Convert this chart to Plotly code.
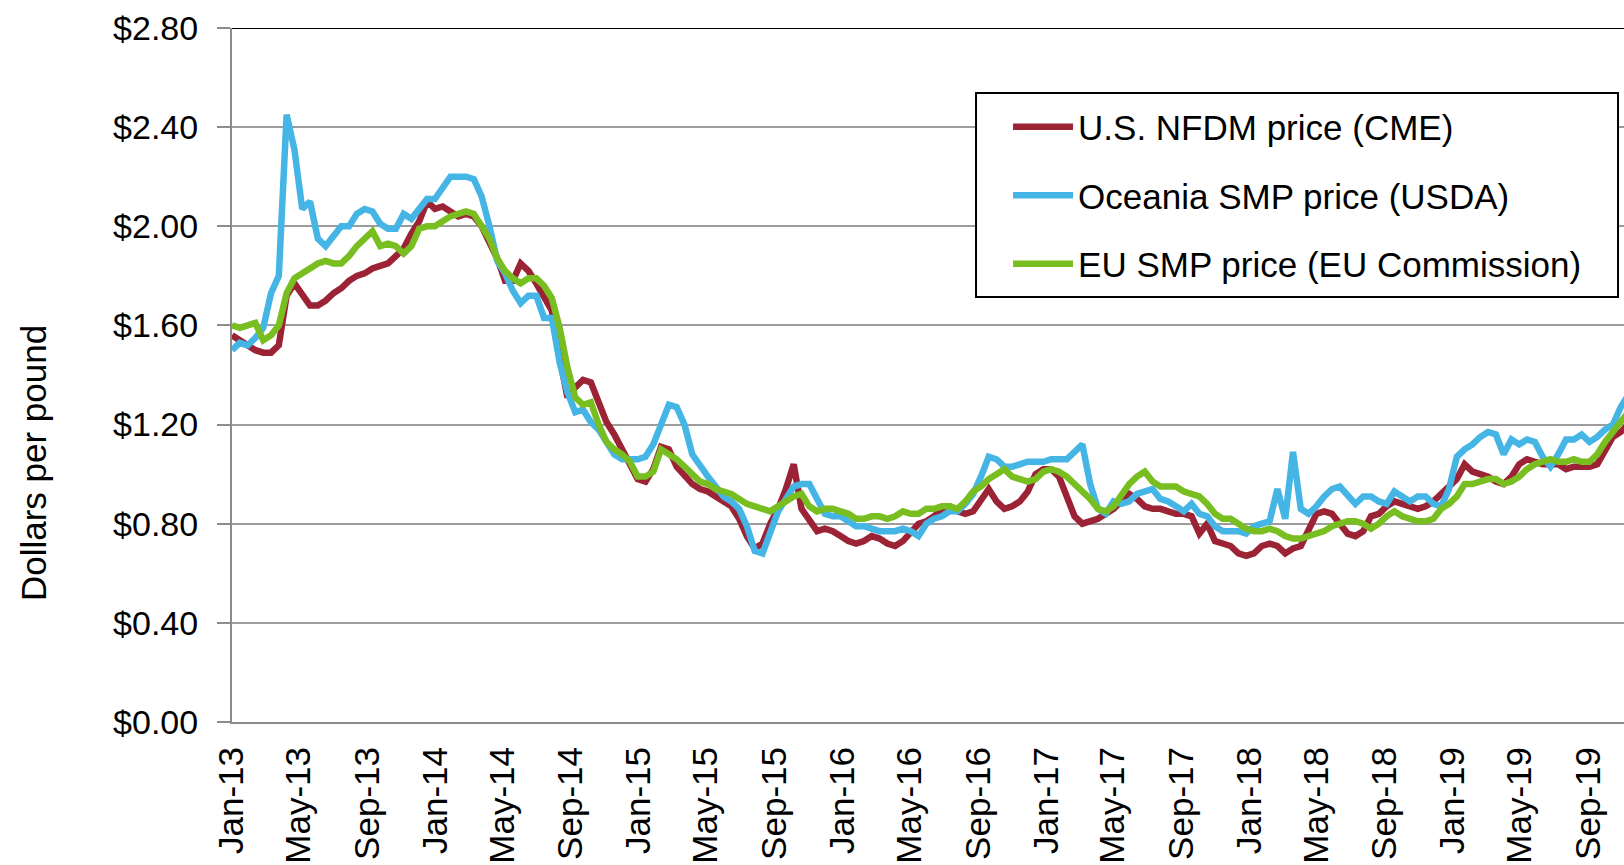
import pandas as pd
import plotly.graph_objects as go

# biweekly observations starting Jan 2013
dates = pd.date_range("2013-01-01", periods=180, freq="14D")

nfdm_us = [
    1.56, 1.54, 1.52, 1.50, 1.49, 1.49, 1.52, 1.72, 1.77, 1.72,
    1.68, 1.68, 1.70, 1.73, 1.75, 1.78, 1.80, 1.81, 1.83, 1.84,
    1.85, 1.88, 1.91, 1.97, 2.02, 2.10, 2.07, 2.08, 2.06, 2.04,
    2.05, 2.04, 2.00, 1.93, 1.87, 1.78, 1.78, 1.85, 1.82, 1.77,
    1.72, 1.66, 1.47, 1.31, 1.35, 1.38, 1.37, 1.29, 1.21, 1.16,
    1.10, 1.04, 0.98, 0.97, 1.02, 1.11, 1.10, 1.03, 0.99, 0.96,
    0.94, 0.93, 0.91, 0.89, 0.87, 0.82, 0.75, 0.70, 0.72, 0.80,
    0.86, 0.94, 1.04, 0.86, 0.81, 0.77, 0.78, 0.77, 0.75, 0.73,
    0.72, 0.73, 0.75, 0.74, 0.72, 0.71, 0.73, 0.77, 0.80, 0.81,
    0.83, 0.86, 0.87, 0.85, 0.84, 0.85, 0.89, 0.94, 0.89, 0.86,
    0.87, 0.89, 0.93, 1.00, 1.02, 1.02, 0.99, 0.91, 0.83, 0.80,
    0.81, 0.82, 0.84, 0.86, 0.89, 0.92, 0.90, 0.87, 0.86, 0.86,
    0.85, 0.84, 0.84, 0.83, 0.76, 0.80, 0.73, 0.72, 0.71, 0.68,
    0.67, 0.68, 0.71, 0.72, 0.71, 0.68, 0.70, 0.71, 0.77, 0.84,
    0.85, 0.84, 0.80, 0.76, 0.75, 0.77, 0.83, 0.84, 0.87, 0.89,
    0.88, 0.87, 0.86, 0.87, 0.89, 0.92, 0.95, 0.98, 1.04, 1.01,
    1.00, 0.99, 0.97, 0.96, 0.99, 1.04, 1.06, 1.05, 1.04, 1.04,
    1.04, 1.02, 1.03, 1.03, 1.03, 1.04, 1.10, 1.15, 1.17, 1.20,
]

smp_oceania = [
    1.50, 1.53, 1.52, 1.55, 1.59, 1.73, 1.80, 2.45, 2.31, 2.07,
    2.10, 1.95, 1.92, 1.96, 2.00, 2.00, 2.05, 2.07, 2.06, 2.01,
    1.99, 1.99, 2.05, 2.03, 2.07, 2.11, 2.11, 2.16, 2.20, 2.20,
    2.20, 2.19, 2.12, 2.00, 1.86, 1.81, 1.74, 1.69, 1.72, 1.72,
    1.63, 1.63, 1.45, 1.33, 1.25, 1.26, 1.21, 1.18, 1.13, 1.08,
    1.06, 1.06, 1.06, 1.07, 1.12, 1.20, 1.28, 1.27, 1.20, 1.08,
    1.03, 0.99, 0.95, 0.91, 0.89, 0.86, 0.79, 0.69, 0.68, 0.76,
    0.85, 0.90, 0.95, 0.96, 0.96, 0.90, 0.84, 0.83, 0.83, 0.81,
    0.79, 0.79, 0.78, 0.77, 0.77, 0.77, 0.78, 0.77, 0.75, 0.80,
    0.82, 0.83, 0.85, 0.85, 0.88, 0.92, 0.99, 1.07, 1.06, 1.03,
    1.03, 1.04, 1.05, 1.05, 1.05, 1.06, 1.06, 1.06, 1.09, 1.12,
    0.96, 0.86, 0.84, 0.89, 0.88, 0.89, 0.92, 0.93, 0.94, 0.90,
    0.89, 0.87, 0.85, 0.88, 0.84, 0.83, 0.79, 0.77, 0.77, 0.77,
    0.76, 0.79, 0.80, 0.81, 0.94, 0.82, 1.09, 0.86, 0.84, 0.87,
    0.91, 0.94, 0.95, 0.91, 0.88, 0.91, 0.91, 0.89, 0.88, 0.93,
    0.91, 0.89, 0.91, 0.91, 0.88, 0.87, 0.94, 1.07, 1.10, 1.12,
    1.15, 1.17, 1.16, 1.08, 1.14, 1.12, 1.14, 1.13, 1.07, 1.03,
    1.08, 1.14, 1.14, 1.16, 1.13, 1.15, 1.18, 1.20, 1.27, 1.32,
]

smp_eu = [
    1.60, 1.59, 1.60, 1.61, 1.54, 1.56, 1.60, 1.73, 1.79, 1.81,
    1.83, 1.85, 1.86, 1.85, 1.85, 1.88, 1.92, 1.95, 1.98, 1.92,
    1.93, 1.92, 1.89, 1.92, 1.99, 2.00, 2.00, 2.02, 2.04, 2.05,
    2.06, 2.05, 2.00, 1.95, 1.87, 1.82, 1.79, 1.77, 1.79, 1.79,
    1.76, 1.71, 1.59, 1.43, 1.31, 1.28, 1.29, 1.20, 1.13, 1.10,
    1.08, 1.05, 0.99, 0.99, 1.01, 1.10, 1.08, 1.06, 1.03, 1.00,
    0.97, 0.96, 0.94, 0.93, 0.92, 0.90, 0.88, 0.87, 0.86, 0.85,
    0.87, 0.89, 0.91, 0.92, 0.87, 0.85, 0.86, 0.86, 0.85, 0.84,
    0.82, 0.82, 0.83, 0.83, 0.82, 0.83, 0.85, 0.84, 0.84, 0.86,
    0.86, 0.87, 0.87, 0.86, 0.89, 0.93, 0.95, 0.98, 1.00, 1.02,
    0.99, 0.98, 0.97, 0.98, 1.01, 1.02, 1.01, 0.99, 0.96, 0.93,
    0.90, 0.86, 0.85, 0.87, 0.92, 0.96, 0.99, 1.01, 0.97, 0.95,
    0.95, 0.95, 0.93, 0.92, 0.91, 0.88, 0.84, 0.82, 0.82, 0.80,
    0.78, 0.77, 0.77, 0.78, 0.77, 0.75, 0.74, 0.74, 0.75, 0.76,
    0.77, 0.79, 0.80, 0.81, 0.81, 0.80, 0.78, 0.80, 0.83, 0.85,
    0.83, 0.82, 0.81, 0.81, 0.82, 0.86, 0.88, 0.91, 0.96, 0.96,
    0.97, 0.98, 0.98, 0.96, 0.97, 0.99, 1.02, 1.04, 1.05, 1.06,
    1.05, 1.05, 1.06, 1.05, 1.05, 1.08, 1.13, 1.17, 1.21, 1.25,
]

series_names = [
    "U.S. NFDM price (CME)",
    "Oceania SMP price (USDA)",
    "EU SMP price (EU Commission)",
]
series_colors = ["#9B2335", "#45B5E6", "#78BE20"]

font_family = "Liberation Sans, Arial, sans-serif"

fig = go.Figure()

for name, values, color in zip(series_names, [nfdm_us, smp_oceania, smp_eu], series_colors):
    fig.add_trace(
        go.Scatter(
            x=dates,
            y=values,
            mode="lines",
            name=name,
            legendgroup=name,
            line=dict(color=color, width=6.5),
        )
    )

fig.update_layout(
    width=1624,
    height=865,
    margin=dict(l=232, r=0, t=28, b=143),
    paper_bgcolor="white",
    plot_bgcolor="white",
    font=dict(family=font_family, size=35, color="black"),
    legend=dict(
        x=0.5575,
        y=0.900,
        xanchor="left",
        yanchor="top",
        bgcolor="rgba(0,0,0,0)",
        borderwidth=0,
        font=dict(family=font_family, size=35, color="black"),
        tracegroupgap=20,
        itemwidth=60,
    ),
    xaxis=dict(
        type="date",
        range=["2013-01-01", "2019-11-04"],
        tick0="2013-01-01",
        dtick="M4",
        tickformat="%b-%y",
        tickangle=-90,
        showgrid=False,
        showline=True,
        linecolor="#8c8c8c",
        linewidth=2,
        ticks="",
        automargin=False,
        ticklabelstandoff=9,
        tickfont=dict(family=font_family, size=35, color="black"),
    ),
    yaxis=dict(
        range=[0, 2.8],
        dtick=0.4,
        tickprefix="$",
        tickformat=".2f",
        showgrid=True,
        gridcolor="#9c9c9c",
        gridwidth=2,
        zeroline=False,
        showline=True,
        linecolor="#8c8c8c",
        linewidth=2,
        ticks="outside",
        ticklen=13,
        tickwidth=2,
        tickcolor="#8c8c8c",
        automargin=False,
        ticklabelstandoff=12,
        tickfont=dict(family=font_family, size=34, color="black"),
    ),
    annotations=[
        # y axis title, sits below the middle of the axis as in the original
        dict(
            text="Dollars per pound",
            xref="paper",
            yref="paper",
            x=-0.143,
            y=0.373,
            xanchor="center",
            yanchor="middle",
            textangle=-90,
            showarrow=False,
            font=dict(family=font_family, size=35, color="black"),
        )
    ],
    shapes=[
        # top border of the plot area
        dict(
            type="line",
            xref="paper",
            yref="y",
            x0=0,
            x1=1,
            y0=2.8,
            y1=2.8,
            line=dict(color="black", width=2),
        ),
        # legend box
        dict(
            type="rect",
            xref="paper",
            yref="paper",
            x0=0.5345,
            x1=0.9957,
            y0=0.6124,
            y1=0.9063,
            layer="above",
            fillcolor="white",
            line=dict(color="black", width=2),
        ),
    ],
)

fig.write_html(
    "out.html",
    config={"displayModeBar": False},
    post_script="document.body.style.margin='0';",
)
